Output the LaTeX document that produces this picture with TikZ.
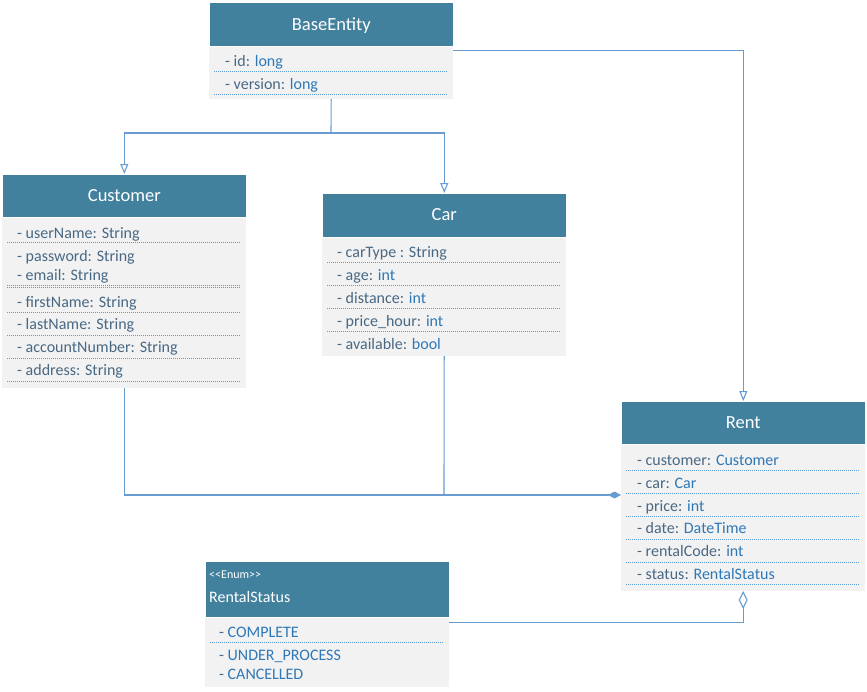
\documentclass[tikz,border=0pt]{standalone}
\usepackage{fontspec}
\setmainfont{Carlito}
\usepackage{xcolor}
\usetikzlibrary{positioning, arrows.meta}

\definecolor{hdr}{RGB}{66,129,158}
\definecolor{bodyg}{RGB}{242,242,242}
\definecolor{nmcol}{RGB}{72,104,132}
\definecolor{tycol}{RGB}{46,120,184}
\definecolor{lnk}{RGB}{104,155,210}
\definecolor{sepcol}{RGB}{91,155,213}
\newcommand{\ty}[1]{\textcolor{tycol}{#1}}

\tikzset{
  head/.style={fill=hdr, draw=white, line width=0.6pt, minimum width=244pt, anchor=north west,
    text=white, font=\fontsize{18.5}{20}\selectfont, inner sep=0},
  classbody/.style={fill=bodyg, minimum width=244pt, anchor=north west, inner sep=0},
  attr/.style={anchor=west, inner sep=0, text=nmcol, font=\fontsize{16}{18}\selectfont,
    text height=11pt, text depth=3.5pt, yshift=-2.5pt},
  dotsep/.style={sepcol, line width=0.8pt, dash pattern=on 1pt off 1pt},
  link/.style={lnk, line width=1.1pt},
  inherit/.style={link, -{Triangle[open, length=10pt, width=8pt]}},
  compose/.style={link, -{Diamond[length=13pt, width=7pt]}},
  aggreg/.style={link, -{Diamond[open, length=18pt, width=9pt]}}
}

\begin{document}
\begin{tikzpicture}[x=1pt, y=-1pt]
\useasboundingbox (0,0) rectangle (867,691);

%BaseEntity
\node[head, minimum height=44pt, text depth=1pt] (base) at (209,2) {BaseEntity};
\node[classbody, minimum height=52pt] (base-body) at (base.south west) {};
\foreach \y/\t [count=\i] in {60/{- id: \ty{long}}, 83/{- version: \ty{long}}}
  \node[attr] (base-\i) at (225,\y) {\t};
\foreach \y in {71,94} \draw[dotsep] (214,\y) -- (448,\y);

%Customer
\node[head, minimum height=43pt, text depth=1pt] (customer) at (2,174) {Customer};
\node[classbody, minimum height=170pt] (customer-body) at (customer.south west) {};
\foreach \y/\t [count=\i] in {232/{- userName: String}, 255/{- password: String},
    274/{- email: String}, 301/{- firstName: String}, 323/{- lastName: String},
    346/{- accountNumber: String}, 369/{- address: String}}
  \node[attr] (customer-\i) at (17,\y) {\t};
\foreach \y in {242,285,287,312,335,358,381} \draw[dotsep] (7,\y) -- (240,\y);

%Car
\node[head, minimum height=44pt, text depth=1pt] (car) at (322,193) {Car};
\node[classbody, minimum height=118pt] (car-body) at (car.south west) {};
\foreach \y/\t [count=\i] in {251/{- carType : String}, 274/{- age: \ty{int}},
    297/{- distance: \ty{int}}, 320/{- price\_hour: \ty{int}}, 343/{- available: \ty{bool}}}
  \node[attr] (car-\i) at (337,\y) {\t};
\foreach \y in {262,285,308,331} \draw[dotsep] (327,\y) -- (561,\y);

%Rent
\node[head, minimum height=43pt, text depth=1pt] (rent) at (621,401) {Rent};
\node[classbody, minimum height=146pt] (rent-body) at (rent.south west) {};
\foreach \y/\t [count=\i] in {459/{- customer: \ty{Customer}}, 482/{- car: \ty{Car}},
    505/{- price: \ty{int}}, 527/{- date: \ty{DateTime}}, 550/{- rentalCode: \ty{int}},
    573/{- status: \ty{RentalStatus}}}
  \node[attr] (rent-\i) at (637,\y) {\t};
\foreach \y in {470,493,516,539,562,584} \draw[dotsep] (626,\y) -- (860,\y);

%RentalStatus (enum)
\node[head, minimum height=56pt] (enum) at (205,561) {};
\node[anchor=west, inner sep=0, text=white, font=\fontsize{12}{13}\selectfont] (enum-stereo)
  at (209,575) {<{}<Enum>{}>};
\node[anchor=west, inner sep=0, text=white, font=\fontsize{16}{18}\selectfont] (enum-name)
  at (209,597) {RentalStatus};
\node[classbody, minimum height=69pt] (enum-body) at (enum.south west) {};
\foreach \y/\t [count=\i] in {631/{- \ty{COMPLETE}}, 654/{- \ty{UNDER\_PROCESS}}, 673/{- \ty{CANCELLED}}}
  \node[attr] (enum-\i) at (219,\y) {\t};
\draw[dotsep] (210,642) -- (444,642);

%links
\coordinate (fork) at (331,133);
\draw[link] (base-body.south) -- (fork);
\draw[inherit] (fork) -| (customer.north);
\draw[inherit] (fork) -| (car.north);
\draw[inherit] ([yshift=-4pt]base-body.north east) -| (rent.north);
\coordinate (join) at (444,495);
\draw[link] (car-body.south) -- (join);
\draw[compose] (customer-body.south) |- (rent-body.west |- join);
\draw[aggreg] ([yshift=-5pt]enum-body.north east) -| (rent-body.south);
\end{tikzpicture}
\end{document}
